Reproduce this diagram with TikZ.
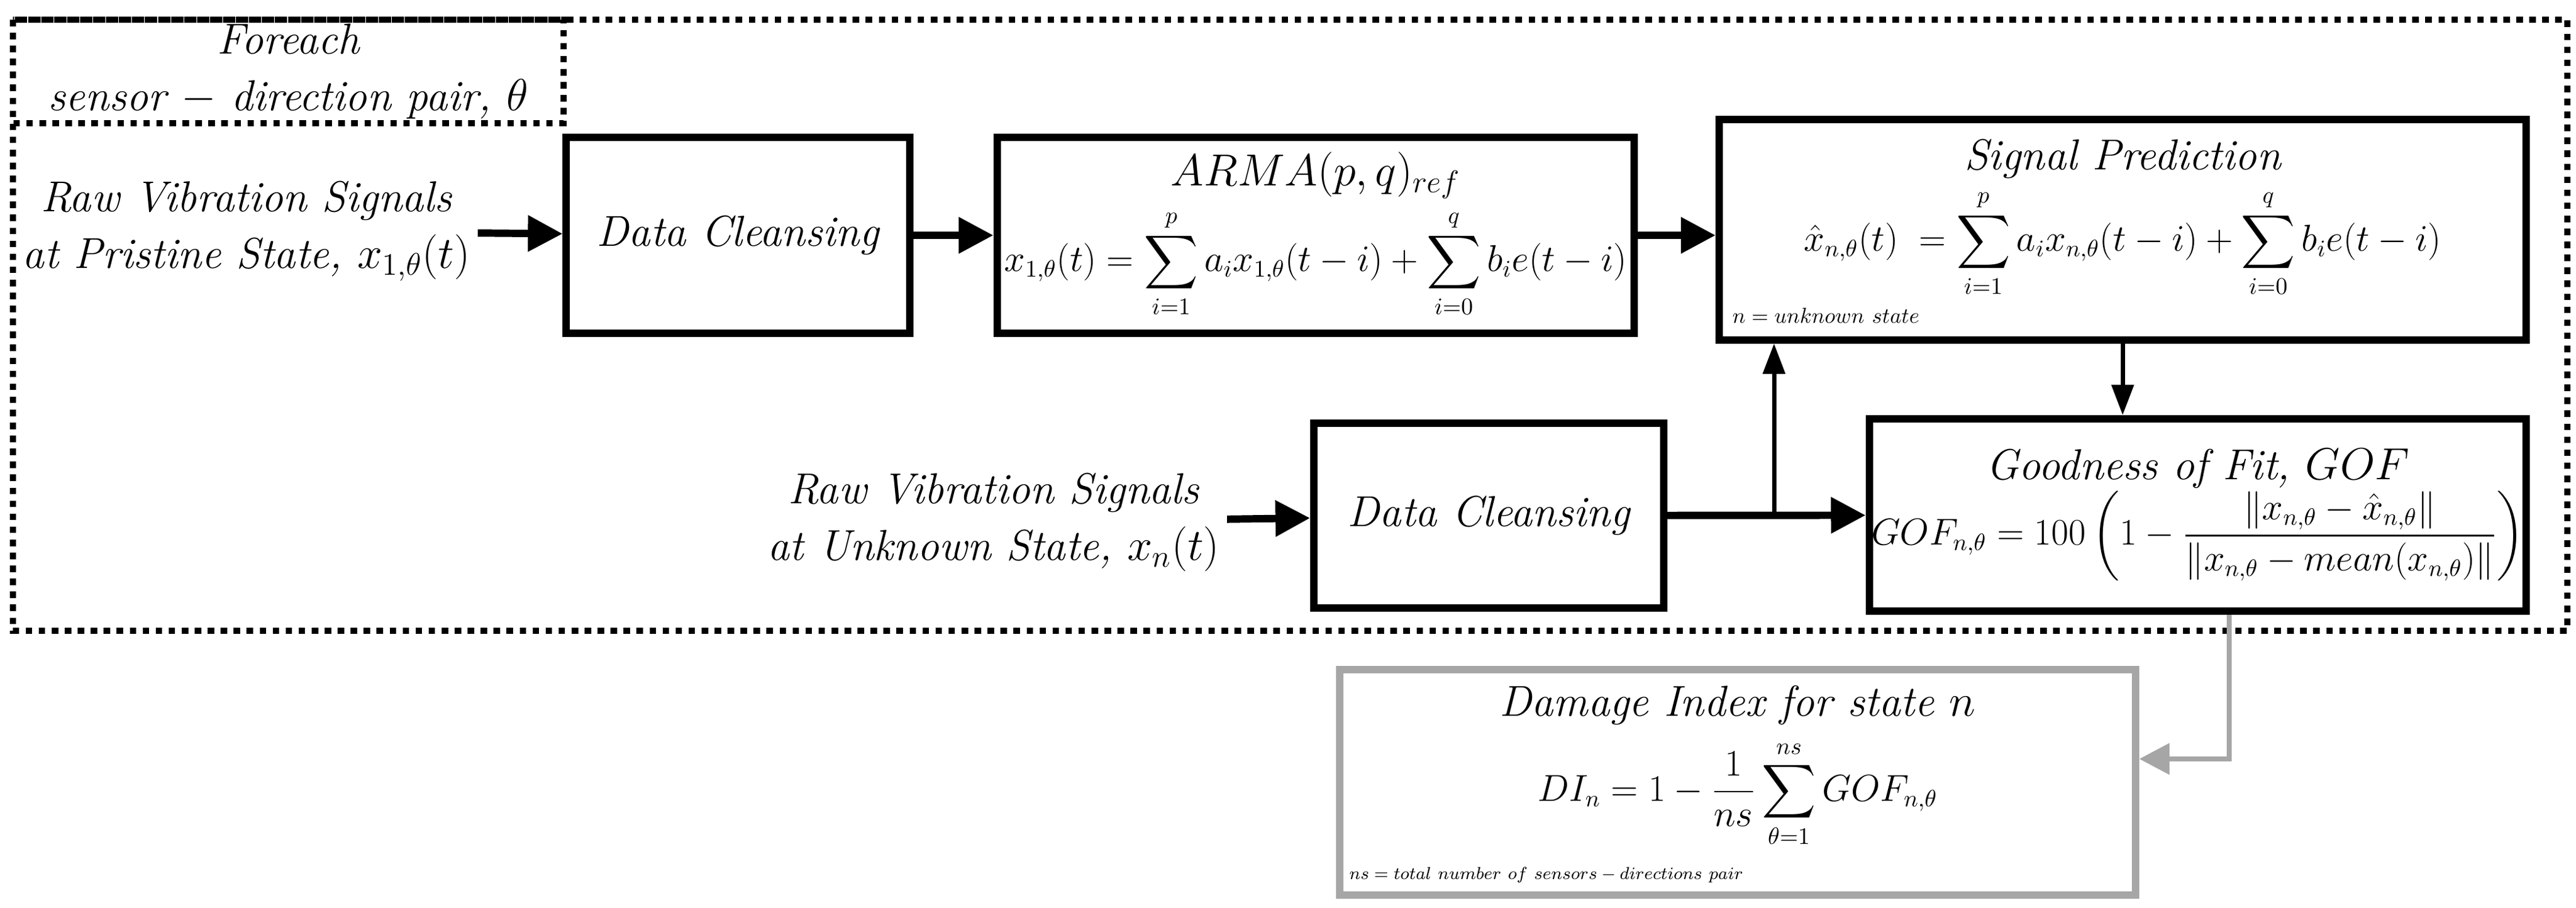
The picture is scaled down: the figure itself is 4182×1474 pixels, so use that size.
\documentclass[tikz,border=0pt]{standalone}
\usepackage{amsmath}
\usetikzlibrary{arrows.meta}
\begin{document}
\begin{tikzpicture}[x=0.01cm,y=-0.01cm,
  box/.style={draw=black,line width=3.4pt,inner sep=0pt,align=center,font=\fontsize{20}{24}\selectfont\itshape},
  gbox/.style={box,draw=black!35},
  lbl/.style={align=center,font=\fontsize{20}{26}\selectfont\itshape},
  arr/.style={line width=3.4pt,-{Triangle[length=16pt,width=16pt]}},
  tarr/.style={line width=2pt,-{Triangle[length=14pt,width=10pt]}},
  garr/.style={line width=2.5pt,draw=black!35,-{Triangle[length=14pt,width=14pt]}},
  note/.style={font=\fontsize{10}{12}\selectfont\itshape,anchor=west,inner sep=0pt}]
\useasboundingbox (0,0) rectangle (4182,1474);
\draw[line width=3pt,dash pattern=on 3pt off 3pt] (21,32) rectangle (4168,1024);
\draw[line width=3pt,dash pattern=on 3pt off 3pt] (21,32) rectangle (915,200);
\node[lbl] (fe) at (468,116) {Foreach\\sensor $-$ direction pair, $\theta$};
\node[lbl] (raw1) at (400,375) {Raw Vibration Signals\\at Pristine State, $x_{1,\theta}(t)$};
\node[box,minimum width=5.57cm,minimum height=3.17cm] (dc1) at (1198,382) {Data Cleansing};
\node[box,minimum width=10.34cm,minimum height=3.17cm] (arma) at (2136,382)
  {$ARMA(p,q)_{ref}$\\[4pt]
   {\fontsize{16}{18}\selectfont $x_{1,\theta}(t)=\displaystyle\sum_{i=1}^{p}a_i x_{1,\theta}(t-i)+\sum_{i=0}^{q}b_i e(t-i)$}};
\node[box,minimum width=13.09cm,minimum height=3.57cm] (sp) at (3446,373)
  {Signal Prediction\\[4pt]
   {\fontsize{16}{18}\selectfont $\hat{x}_{n,\theta}(t)\;=\displaystyle\sum_{i=1}^{p}a_i x_{n,\theta}(t-i)+\sum_{i=0}^{q}b_i e(t-i)$}\\[8pt]};
\node[note] (spn) at (2812,512) {$n=unknown\ state$};
\node[lbl] (raw2) at (1613,848) {Raw Vibration Signals\\at Unknown State, $x_n(t)$};
\node[box,minimum width=5.68cm,minimum height=2.99cm] (dc2) at (2417,837) {Data Cleansing};
\node[box,minimum width=10.66cm,minimum height=3.12cm] (gof) at (3568,836)
  {Goodness of Fit, $GOF$\\[0pt]
   {\fontsize{16}{18}\selectfont $GOF_{n,\theta}=100\left(1-\dfrac{\left\|x_{n,\theta}-\hat{x}_{n,\theta}\right\|}{\left\|x_{n,\theta}-mean(x_{n,\theta})\right\|}\right)$}};
\node[gbox,minimum width=12.91cm,minimum height=3.65cm] (di) at (2821,1270)
  {Damage Index for state $n$\\[6pt]
   {\fontsize{16}{18}\selectfont $DI_n=1-\dfrac{1}{ns}\displaystyle\sum_{\theta=1}^{ns}GOF_{n,\theta}$}\\[12pt]};
\node[note,font=\fontsize{8}{10}\selectfont\itshape] (din) at (2190,1420) {$ns=total\ number\ of\ sensors-directions\ pair$};
\draw[arr] (raw1) -- (dc1);
\draw[arr] (dc1) -- (arma);
\draw[arr] (arma.east) -- (arma.east -| sp.west);
\draw[arr] (raw2) -- (dc2);
\draw[arr] (dc2) -- (gof);
\coordinate (br) at (2880,837);
\draw[tarr] (br) -- (br |- sp.south);
\draw[tarr] (sp.south) -- (sp.south |- gof.north);
\coordinate (g1) at ([xshift=0.51cm]gof.south);
\coordinate (g2) at ([yshift=0.38cm]di.east);
\draw[garr] (g1) |- (g2);
\end{tikzpicture}
\end{document}
